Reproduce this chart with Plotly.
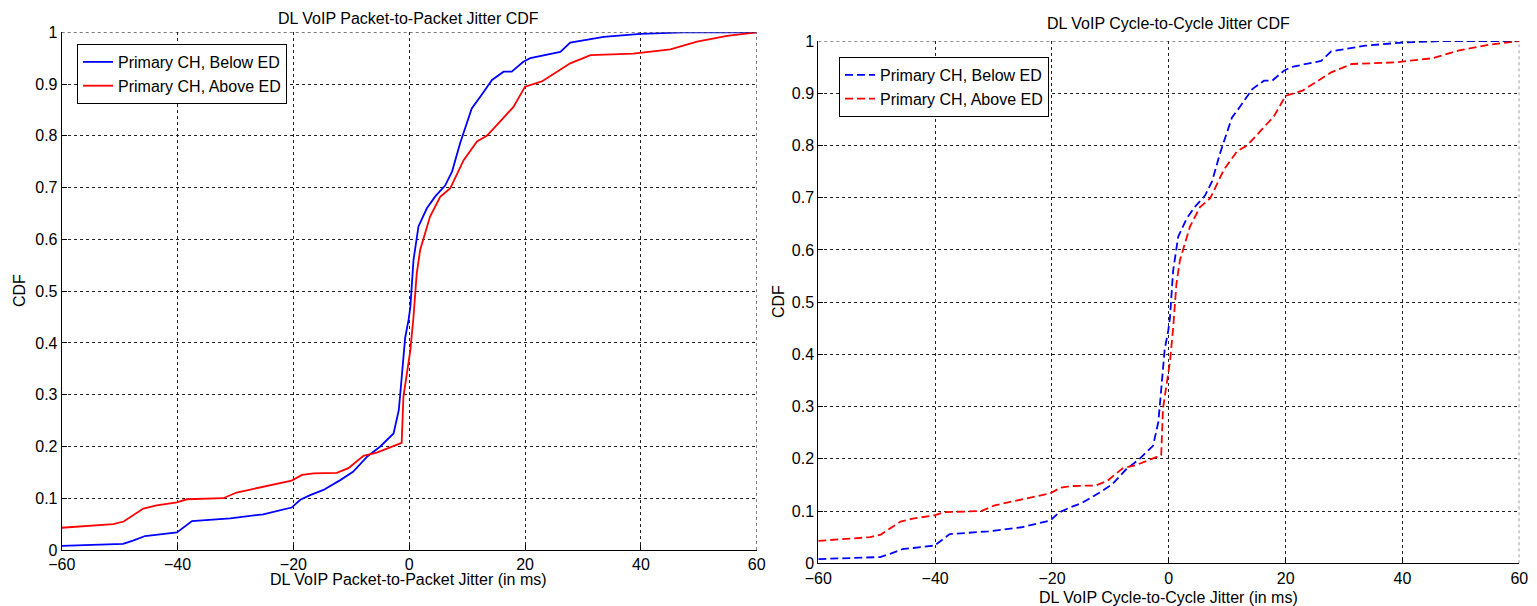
import plotly.graph_objects as go

# ---- data ----
x_ticks = [-60, -40, -20, 0, 20, 40, 60]
y_ticks = [0, 0.1, 0.2, 0.3, 0.4, 0.5, 0.6, 0.7, 0.8, 0.9, 1]

below_x = [-60, -49.4, -47.7, -45.6, -40.1, -37.5, -30.9, -25.2, -20.3, -18.8, -17.1, -14.8,
           -11.9, -9.7, -7.3, -5.0, -2.7, -1.8, -1.4, -0.7, -0.1, 0.2, 0.74, 1.6, 3.05, 4.5,
           6.2, 7.4, 8.8, 10.8, 12.3, 14.3, 16.3, 17.7, 19.7, 20.9, 26.1, 27.8, 33.6, 39.9,
           47.3, 60]
below_y = [0.008, 0.012, 0.018, 0.027, 0.034, 0.056, 0.061, 0.069, 0.082, 0.097, 0.106, 0.116,
           0.135, 0.151, 0.180, 0.200, 0.225, 0.27, 0.32, 0.41, 0.445, 0.47, 0.56, 0.625, 0.66,
           0.683, 0.704, 0.731, 0.786, 0.853, 0.876, 0.908, 0.924, 0.924, 0.943, 0.95, 0.962,
           0.98, 0.991, 0.997, 1.0, 1.0]

above_x = [-60, -51.1, -49.3, -45.9, -43.6, -40.1, -38.4, -32.1, -29.8, -25.2, -20.3, -18.5,
           -16.5, -12.5, -10.5, -7.9, -5.6, -1.3, -1.0, 0.2, 0.74, 1.3, 1.9, 3.6, 5.35, 7.1,
           9.4, 11.7, 13.4, 15.4, 18.0, 20.0, 22.9, 27.8, 31.3, 38.7, 45.1, 49.7, 54.9, 60]
above_y = [0.043, 0.05, 0.055, 0.08, 0.086, 0.092, 0.098, 0.1, 0.111, 0.122, 0.134, 0.145,
           0.148, 0.149, 0.158, 0.182, 0.188, 0.207, 0.296, 0.386, 0.45, 0.534, 0.58, 0.644,
           0.682, 0.699, 0.753, 0.789, 0.80, 0.824, 0.856, 0.895, 0.905, 0.94, 0.956, 0.959,
           0.967, 0.982, 0.993, 1.0]

# cycle-to-cycle curves (read as essentially the same shapes)
cyc_below_x = below_x
cyc_below_y = below_y
cyc_above_x = above_x
cyc_above_y = above_y

names = ["Primary CH, Below ED", "Primary CH, Above ED"]
titles = ["DL VoIP Packet-to-Packet Jitter CDF", "DL VoIP Cycle-to-Cycle Jitter CDF"]
xtitles = ["DL VoIP Packet-to-Packet Jitter (in ms)", "DL VoIP Cycle-to-Cycle Jitter (in ms)"]

FONT = "Liberation Sans, Arial, sans-serif"
FS = 16
OFF = 8  # page body margin
W, H = 1537 - 2 * OFF, 606 - OFF
LW = 1.8


def px(xp):
    return (xp - OFF) / W


def py(yp):
    return 1 - (yp - OFF) / H


fig = go.Figure()
fig.add_trace(go.Scatter(x=below_x, y=below_y, mode="lines", name=names[0],
                         line=dict(color="#0000FF", width=LW), xaxis="x", yaxis="y", legend="legend"))
fig.add_trace(go.Scatter(x=above_x, y=above_y, mode="lines", name=names[1],
                         line=dict(color="#FF0000", width=LW), xaxis="x", yaxis="y", legend="legend"))
fig.add_trace(go.Scatter(x=cyc_below_x, y=cyc_below_y, mode="lines", name=names[0],
                         line=dict(color="#0000FF", width=LW, dash="8px,4px"), xaxis="x2", yaxis="y2", legend="legend2"))
fig.add_trace(go.Scatter(x=cyc_above_x, y=cyc_above_y, mode="lines", name=names[1],
                         line=dict(color="#FF0000", width=LW, dash="8px,4px"), xaxis="x2", yaxis="y2", legend="legend2"))

# pixel geometry (page pixels)
L1 = (61.7, 756.7, 32.3, 550.0)
L2 = (818.3, 1519.3, 41.0, 563.3)


def xd(a, b):
    return [px(a), px(b)]


def yd(top, bot):
    return [py(bot), py(top)]


axis_common = dict(showline=True, linecolor="black", linewidth=1, mirror=False,
                   ticks="inside", ticklen=5, tickcolor="black", automargin=False,
                   showgrid=True, gridcolor="#222222", griddash="dot", gridwidth=1,
                   zeroline=False, tickfont=dict(family=FONT, size=FS, color="black"))

fig.update_layout(
    template="none",
    width=W, height=H, margin=dict(l=0, r=0, t=0, b=0, autoexpand=False),
    paper_bgcolor="white", plot_bgcolor="white",
    font=dict(family=FONT, size=FS, color="black"),
    xaxis=dict(domain=xd(L1[0], L1[1]), range=[-60, 60], tickvals=x_ticks, anchor="y", **axis_common),
    yaxis=dict(domain=yd(L1[2], L1[3]), range=[0, 1], tickvals=y_ticks, anchor="x", **axis_common),
    xaxis2=dict(domain=xd(L2[0], L2[1]), range=[-60, 60], tickvals=x_ticks, anchor="y2", **axis_common),
    yaxis2=dict(domain=yd(L2[2], L2[3]), range=[0, 1], tickvals=y_ticks, anchor="x2", **axis_common),
    legend=dict(x=px(77), y=py(44), xanchor="left", yanchor="top",
                bordercolor="black", borderwidth=1, bgcolor="white",
                font=dict(family=FONT, size=FS, color="black"), tracegroupgap=0),
    legend2=dict(x=px(839), y=py(57), xanchor="left", yanchor="top",
                 bordercolor="black", borderwidth=1, bgcolor="white",
                 font=dict(family=FONT, size=FS, color="black"), tracegroupgap=0),
    showlegend=True,
)

# top and right dotted borders
for xr, yr in (("x", "y"), ("x2", "y2")):
    fig.add_shape(type="line", xref=xr, yref=yr, x0=-60, x1=60, y0=1, y1=1,
                  line=dict(color="#222222", width=1, dash="dot"))
    fig.add_shape(type="line", xref=xr, yref=yr, x0=60, x1=60, y0=0, y1=1,
                  line=dict(color="#222222", width=1, dash="dot"))

ann = []
ann.append(dict(text=titles[0], x=px(409), y=py(8), xref="paper", yref="paper",
                showarrow=False, xanchor="center", yanchor="top", font=dict(size=FS)))
ann.append(dict(text=titles[1], x=px(1168), y=py(24), xref="paper", yref="paper",
                showarrow=False, xanchor="center", yanchor="middle", font=dict(size=FS)))
ann.append(dict(text=xtitles[0], x=px(409), y=py(579), xref="paper", yref="paper",
                showarrow=False, xanchor="center", yanchor="middle", font=dict(size=FS)))
ann.append(dict(text=xtitles[1], x=px(1168), y=py(597), xref="paper", yref="paper",
                showarrow=False, xanchor="center", yanchor="middle", font=dict(size=FS)))
ann.append(dict(text="CDF", x=px(19), y=py(291), xref="paper", yref="paper", textangle=-90,
                showarrow=False, xanchor="center", yanchor="middle", font=dict(size=FS)))
ann.append(dict(text="CDF", x=px(778), y=py(302), xref="paper", yref="paper", textangle=-90,
                showarrow=False, xanchor="center", yanchor="middle", font=dict(size=FS)))
fig.update_layout(annotations=ann)

fig.write_html("out.html")
